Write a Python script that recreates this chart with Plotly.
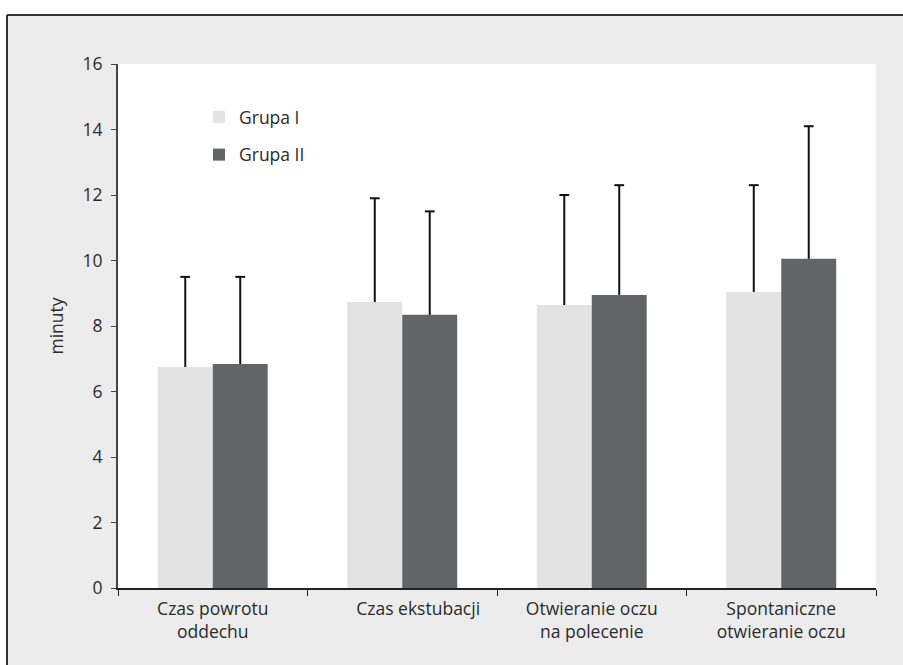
import plotly.graph_objects as go

# Recovery times after anaesthesia, mean + SD (minutes)
categories = [
    "Czas powrotu<br>oddechu",
    "\u00a0\u00a0\u00a0\u00a0\u00a0\u00a0\u00a0Czas ekstubacji",
    "Otwieranie oczu<br>na polecenie",
    "Spontaniczne<br>otwieranie oczu",
]
grupa1_mean = [6.75, 8.73, 8.64, 9.04]
grupa1_sd = [2.75, 3.17, 3.36, 3.26]
grupa2_mean = [6.84, 8.34, 8.95, 10.05]
grupa2_sd = [2.66, 3.16, 3.35, 4.05]
y_ticks = [0, 2, 4, 6, 8, 10, 12, 14, 16]

FONT = "Open Sans"
TEXT = "#2b2b2b"
FS = 17.5

W, H = 903, 665
L, R, T, B = 118, 876, 64, 588  # plot area in pixels


def px(x):
    return (x - L) / (R - L)


def py(y):
    return (B - y) / (B - T)


series = [
    ("Grupa I", grupa1_mean, grupa1_sd, "#e2e3e2", "g1"),
    ("Grupa II", grupa2_mean, grupa2_sd, "#636466", "g2"),
]

fig = go.Figure()
for name, mean, sd, color, grp in series:
    # bar with an upward-only whisker (no cap at the bar top)
    fig.add_trace(go.Bar(
        name=name, x=categories, y=mean,
        marker=dict(color=color, line=dict(width=0)),
        error_y=dict(type="data", symmetric=False, array=sd, arrayminus=[0] * len(sd),
                     color="#111111", thickness=2, width=0),
        legendgroup=grp, offsetgroup=grp,
    ))
for name, mean, sd, color, grp in series:
    # short cap at the end of each whisker
    fig.add_trace(go.Scatter(
        x=categories, y=[m + s for m, s in zip(mean, sd)],
        mode="markers",
        marker=dict(symbol="line-ew", size=7, line=dict(color="#111111", width=2)),
        legendgroup=grp, offsetgroup=grp, showlegend=False, hoverinfo="skip",
    ))

# outer panel: white margin strip on top/left with a dark border line
shapes = [
    dict(type="rect", xref="paper", yref="paper", x0=px(-5), x1=px(W + 5), y0=py(-5), y1=py(15),
         fillcolor="white", line=dict(width=0), layer="below"),
    dict(type="rect", xref="paper", yref="paper", x0=px(-5), x1=px(7), y0=py(-5), y1=py(H + 5),
         fillcolor="white", line=dict(width=0), layer="below"),
    dict(type="line", xref="paper", yref="paper", x0=px(7), x1=px(W + 5), y0=py(15), y1=py(15),
         line=dict(color="#333333", width=2)),
    dict(type="line", xref="paper", yref="paper", x0=px(7), x1=px(7), y0=py(15), y1=py(H + 5),
         line=dict(color="#333333", width=2)),
]

fig.update_layout(
    width=W, height=H,
    margin=dict(l=L, r=W - R, t=T, b=H - B, pad=0),
    paper_bgcolor="#ebeceb",
    plot_bgcolor="white",
    barmode="group",
    bargap=0.42,
    bargroupgap=0,
    scattermode="group",
    scattergap=0.42,
    font=dict(family=FONT, size=FS, color=TEXT),
    showlegend=True,
    legend=dict(
        x=px(199), y=py(99), xanchor="left", yanchor="top",
        bgcolor="rgba(0,0,0,0)", font=dict(size=FS, color=TEXT),
        traceorder="grouped", tracegroupgap=12,
    ),
    shapes=shapes,
    xaxis=dict(
        type="category",
        showline=True, linecolor="#222222", linewidth=1.5,
        ticks="outside", tickson="boundaries", ticklen=6, tickcolor="#222222",
        showgrid=False, zeroline=False,
        tickfont=dict(size=FS, color=TEXT),
        ticklabelstandoff=4,
    ),
    yaxis=dict(
        range=[0, 16], tickvals=y_ticks,
        showline=True, linecolor="#444444", linewidth=2,
        ticks="outside", ticklen=5, tickcolor="#444444",
        showgrid=False, zeroline=False,
        tickfont=dict(size=FS, color=TEXT),
        ticklabelstandoff=5,
        title=dict(text="minuty", font=dict(size=FS, color=TEXT), standoff=14),
    ),
)

fig.write_html("out.html")
